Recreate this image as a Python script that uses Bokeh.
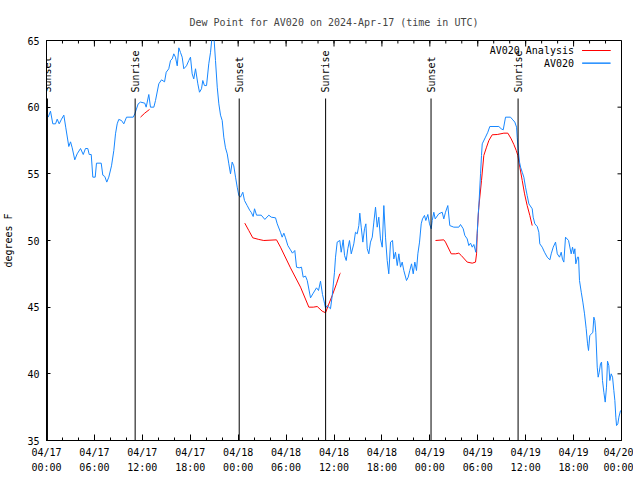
import math
from bokeh.plotting import figure
from bokeh.models import FixedTicker, Label, BoxAnnotation, ColumnDataSource
from bokeh.embed import file_html
from bokeh.resources import INLINE

# ---------------- data ----------------
title_text = "Dew Point for AV020 on 2024-Apr-17 (time in UTC)"
y_label = "degrees F"
series_names = ["AV020 Analysis", "AV020"]

x_ticks = [0, 6, 12, 18, 24, 30, 36, 42, 48, 54, 60, 66, 72]
x_tick_labels = ["04/17\n00:00", "04/17\n06:00", "04/17\n12:00", "04/17\n18:00",
                 "04/18\n00:00", "04/18\n06:00", "04/18\n12:00", "04/18\n18:00",
                 "04/19\n00:00", "04/19\n06:00", "04/19\n12:00", "04/19\n18:00",
                 "04/20\n00:00"]
x_minor_ticks = list(range(0, 73, 2))
y_ticks = [35, 40, 45, 50, 55, 60, 65]

# hours since 2024-04-17 00:00 UTC
sun_hours = [0.12, 11.1, 24.13, 34.95, 48.15, 59.05]
sun_labels = ["Sunset", "Sunrise", "Sunset", "Sunrise", "Sunset", "Sunrise"]

obs_hours = [0.21, 0.50, 0.79, 1.13, 1.34, 1.59, 1.88, 2.17, 2.42, 2.79, 3.01, 3.22, 3.54, 3.84,
             4.26, 4.60, 4.88, 5.17, 5.35, 5.60, 5.80, 6.10, 6.26, 6.85, 7.05, 7.30, 7.55, 7.80,
             8.14, 8.43, 8.64, 8.85, 9.05, 9.39, 9.68, 10.02, 10.86, 11.06, 11.48, 11.77, 12.31,
             12.48, 12.81, 13.02, 13.44, 13.65, 14.06, 14.40, 14.78, 14.99, 15.31, 15.53, 15.74,
             15.94, 16.15, 16.37, 16.57, 16.78, 16.99, 17.19, 17.53, 17.82, 18.03, 18.24, 18.44,
             18.66, 18.95, 19.16, 19.41, 19.57, 19.78, 20.04, 20.32, 20.54, 20.75, 20.95, 21.16,
             21.38, 21.58, 21.79, 22.00, 22.20, 22.41, 22.63, 22.83, 23.04, 23.25, 23.45, 23.67,
             23.88, 24.08, 24.29, 24.58, 24.79, 25.13, 25.46, 25.63, 25.88, 26.05, 26.30, 26.89,
             27.34, 27.84, 28.14, 28.68, 28.89, 29.30, 29.51, 29.72, 29.93, 30.22, 30.55, 30.80,
             31.09, 31.31, 31.64, 31.93, 32.14, 32.43, 32.65, 33.06, 33.35, 33.81, 34.06, 34.31,
             34.56, 34.81, 34.94, 35.15, 35.56, 35.78, 36.06, 36.19, 36.40, 36.73, 36.90, 37.15,
             37.32, 37.53, 37.73, 37.94, 38.16, 38.48, 38.69, 38.91, 39.11, 39.23, 39.41, 39.61,
             39.82, 39.99, 40.16, 40.36, 40.57, 40.79, 40.99, 41.20, 41.41, 41.61, 41.82, 42.04,
             42.24, 42.45, 42.66, 42.86, 43.08, 43.33, 43.49, 43.70, 43.92, 44.12, 44.33, 44.54,
             44.74, 45.08, 45.29, 45.49, 45.71, 45.92, 46.12, 46.33, 46.50, 46.71, 46.92, 47.08,
             47.33, 47.50, 47.75, 47.96, 48.17, 48.30, 48.50, 48.67, 49.12, 49.55, 49.75, 49.96,
             50.25, 50.50, 51.00, 51.63, 51.84, 52.18, 52.38, 52.68, 52.88, 53.10, 53.31, 53.51,
             53.76, 53.93, 54.06, 54.13, 54.35, 54.47, 54.56, 54.97, 55.26, 55.51, 56.64, 56.94,
             57.19, 57.48, 58.10, 58.39, 58.64, 58.86, 58.94, 59.07, 59.23, 59.36, 59.57, 59.77,
             59.98, 60.19, 60.40, 60.82, 60.94, 61.15, 61.45, 61.65, 61.77, 62.07, 62.36, 62.70,
             63.03, 63.20, 63.45, 63.74, 63.96, 64.24, 64.45, 64.61, 64.78, 64.99, 65.37, 65.70,
             65.87, 66.03, 66.16, 66.28, 66.49, 66.62, 66.74, 66.96, 67.16, 67.37, 67.58, 67.75,
             67.87, 68.03, 68.25, 68.41, 68.54, 68.66, 68.78, 68.96, 69.08, 69.21, 69.37, 69.50,
             69.62, 69.79, 69.96, 70.12, 70.25, 70.41, 70.54, 70.71, 70.88, 71.04, 71.17, 71.29,
             71.38, 71.54, 71.67, 71.88]
obs_values = [59.25, 59.7, 58.75, 58.75, 59.1, 58.75, 59.1, 59.4, 58.45, 57.05, 57.4, 56.95, 56.05, 56.5,
              56.9, 56.45, 56.9, 56.9, 56.45, 56.45, 54.75, 54.75, 55.8, 55.8, 54.9, 54.8, 54.38, 54.75,
              55.6, 56.75, 58.0, 58.75, 59.08, 59.0, 58.75, 59.25, 59.25, 59.5, 60.25, 60.38, 60.3,
              60.0, 60.95, 60.0, 60.0, 60.5, 61.75, 62.05, 61.9, 62.62, 62.88, 63.5, 63.62,
              64.0, 63.75, 63.1, 64.45, 64.1, 63.75, 62.88, 63.1, 63.5, 63.75, 62.5, 62.12,
              62.88, 61.75, 61.12, 61.38, 62.0, 61.62, 61.62, 63.25, 64.12, 65.4, 65.4, 63.5,
              61.5, 60.25, 59.4, 59.0, 57.75, 56.95, 56.5, 55.75, 55.0, 55.88, 55.6, 54.75,
              54.0, 53.38, 53.25, 53.62, 53.0, 52.62, 52.25, 52.12, 51.8, 52.38, 51.9, 51.9,
              51.58, 51.9, 51.75, 51.7, 51.25, 50.62, 50.25, 50.55, 50.2, 49.62, 49.3, 49.05,
              49.25, 48.0, 47.95, 48.0, 47.25, 47.33, 47.0, 45.7, 46.0, 46.45, 46.25, 46.95,
              45.95, 45.3, 44.93, 45.12, 44.88, 45.88, 47.62, 48.75, 49.88, 50.0, 49.12, 50.05,
              48.88, 48.5, 49.38, 50.0, 49.0, 49.75, 50.62, 50.5, 51.12, 52.05, 51.0, 49.88,
              50.88, 51.25, 49.38, 49.0, 49.88, 50.25, 51.38, 52.5, 51.0, 51.75, 50.12, 49.5,
              52.62, 50.25, 48.5, 47.5, 49.88, 50.0, 48.62, 49.12, 48.12, 49.0, 48.0, 48.38,
              47.75, 47.0, 47.25, 47.75, 48.25, 47.5, 48.38, 47.75, 49.0, 49.88, 51.25, 51.62,
              51.88, 51.5, 51.95, 51.25, 50.88, 51.5, 52.12, 51.62, 52.0, 52.12, 51.62, 52.12,
              52.62, 51.12, 51.0, 51.0, 51.2, 50.88, 50.38, 50.12, 49.62, 49.8, 49.5, 49.7,
              49.12, 50.5, 52.0, 52.5, 55.0, 56.38, 57.25, 57.75, 58.12, 58.55, 58.55, 58.38,
              58.3, 59.25, 59.25, 59.05, 58.88, 58.5, 57.75, 56.75, 55.88, 55.5, 55.12, 54.75,
              54.0, 53.38, 52.75, 52.38, 51.75, 51.25, 51.05, 50.62, 49.75, 49.5, 49.12, 48.75,
              48.55, 49.0, 49.5, 49.88, 49.0, 48.75, 49.12, 48.6, 48.38, 50.25, 50.0, 49.0,
              49.5, 49.0, 49.38, 48.25, 48.75, 48.75, 47.0, 46.12, 45.38, 44.5, 43.38, 42.25,
              41.75, 42.88, 43.0, 43.12, 44.25, 44.0, 43.12, 40.5, 39.75, 40.12, 40.75, 40.88,
              39.5, 38.62, 37.88, 39.0, 40.95, 40.62, 39.5, 40.0, 39.75, 38.75, 38.0, 36.75,
              36.12, 36.25, 36.75, 37.25]

# analysis series; None marks a gap between pieces
ana_hours = [11.77, 12.30, 12.90, None,
             24.83, 25.33, 25.83, 26.58, 27.21, 28.80, 29.30, 30.55, 31.81, 32.85, 33.40, 33.90,
             34.52, 34.94, 35.23, 35.78, 36.31, 36.73, 36.82, None,
             48.71, 49.75, 49.96, 50.68, 51.22, 51.63, 51.93, 52.68, 53.31, 53.72, 53.85, 53.93,
             54.13, 54.47, 54.76, 55.10, 55.39, 55.81, 56.44, 57.27, 57.77, 58.19, 58.52, 58.82,
             59.02, 59.27, 59.57, 59.86, 60.19, 60.52, 60.82]
ana_values = [59.25, 59.55, 59.83, None,
              51.3, 50.75, 50.2, 50.08, 50.0, 50.05, 49.5, 47.95, 46.5, 45.0, 45.0, 45.05,
              44.7, 44.58, 45.05, 45.88, 46.75, 47.5, 47.55, None,
              50.0, 50.05, 49.88, 49.0, 49.0, 49.05, 48.88, 48.38, 48.3, 48.38, 49.0, 50.5,
              52.5, 54.5, 56.38, 57.0, 57.5, 57.93, 57.95, 58.05, 58.05, 57.62, 57.2, 56.75,
              56.38, 55.5, 54.5, 53.5, 52.62, 51.88, 51.12]

# ---------------- styling ----------------
FONT = "DejaVu Sans Mono"
FS = "10px"
BLUE = "#1787ff"
RED = "#ff0000"
X0, X1, Y0, Y1 = 0, 72, 35, 65
FW, FH = 575, 400          # frame size in px

p = figure(frame_width=FW, frame_height=FH, x_range=(X0, X1), y_range=(Y0, Y1),
           output_backend="svg", toolbar_location=None,
           min_border_left=46, min_border_right=12, min_border_top=40, min_border_bottom=34)

p.title.text = title_text
p.title.align = "center"
p.title.text_font = FONT
p.title.text_font_size = FS
p.title.text_font_style = "normal"
p.title.standoff = 26

p.xgrid.visible = False
p.ygrid.visible = False
p.outline_line_color = "black"
p.outline_line_width = 1
p.background_fill_color = "white"
p.border_fill_color = "white"

xt = FixedTicker(ticks=x_ticks, minor_ticks=x_minor_ticks)
yt = FixedTicker(ticks=y_ticks, minor_ticks=[])

xa = p.xaxis[0]
xa.ticker = xt
xa.major_label_overrides = {t: lab for t, lab in zip(x_ticks, x_tick_labels)}
xa.axis_line_color = "black"
xa.major_tick_in = 6
xa.major_tick_out = 0
xa.minor_tick_in = 3
xa.minor_tick_out = 0
xa.major_tick_line_color = "black"
xa.minor_tick_line_color = "black"
xa.major_label_text_font = FONT
xa.major_label_text_font_size = FS
xa.major_label_text_color = "black"
xa.major_label_standoff = 6
xa.major_label_text_line_height = 1.45

ya = p.yaxis[0]
ya.ticker = yt
ya.axis_line_color = "black"
ya.major_tick_in = 4
ya.major_tick_out = 0
ya.minor_tick_line_color = None
ya.major_tick_line_color = "black"
ya.major_label_text_font = FONT
ya.major_label_text_font_size = FS
ya.major_label_text_color = "black"
ya.major_label_standoff = 7
ya.axis_label = y_label
ya.axis_label_text_font = FONT
ya.axis_label_text_font_size = FS
ya.axis_label_text_font_style = "normal"
ya.axis_label_text_color = "black"
ya.axis_label_standoff = 10

# mirrored tick marks on the top and right edges (gnuplot style), from the tick arrays
px_x = (X1 - X0) / FW
px_y = (Y1 - Y0) / FH
top_major = ColumnDataSource(dict(x=x_ticks))
top_minor = ColumnDataSource(dict(x=x_minor_ticks))
right_major = ColumnDataSource(dict(y=y_ticks))
p.segment(x0="x", y0=Y1, x1="x", y1=Y1 - 6 * px_y, source=top_major, color="black", line_width=1)
p.segment(x0="x", y0=Y1, x1="x", y1=Y1 - 3 * px_y, source=top_minor, color="black", line_width=1)
p.segment(x0=X1, y0="y", x1=X1 - 4 * px_x, y1="y", source=right_major, color="black", line_width=1)

# data lines
ana_src = ColumnDataSource(dict(
    x=[float("nan") if h is None else h for h in ana_hours],
    y=[float("nan") if v is None else v for v in ana_values]))
obs_src = ColumnDataSource(dict(x=obs_hours, y=obs_values))
p.line("x", "y", source=ana_src, color=RED, line_width=1)
p.line("x", "y", source=obs_src, color=BLUE, line_width=1)

# sunrise / sunset markers
sun_src = ColumnDataSource(dict(x=sun_hours))
p.segment(x0="x", y0=Y0, x1="x", y1=60.65, source=sun_src, color="black", line_width=1)
for h, lab in zip(sun_hours, sun_labels):
    p.add_layout(Label(x=h, y=61.1, text=lab, angle=math.pi / 2, text_align="left",
                       text_baseline="middle", text_font=FONT, text_font_size=FS,
                       text_color="black"))

# legend (gnuplot style: text then sample)
leg_rows = [(series_names[0], RED, 64.25), (series_names[1], BLUE, 63.3)]
for name, col, yy in leg_rows:
    p.add_layout(Label(x=66.05, y=yy, text=name, text_align="right", text_baseline="middle",
                       text_font=FONT, text_font_size=FS, text_color="black"))
    p.add_layout(BoxAnnotation(left=67.08, right=70.62, top=yy, bottom=yy,
                               fill_alpha=0, line_color=col, line_width=1, line_alpha=1))

open("out.html", "w").write(file_html(p, INLINE))
